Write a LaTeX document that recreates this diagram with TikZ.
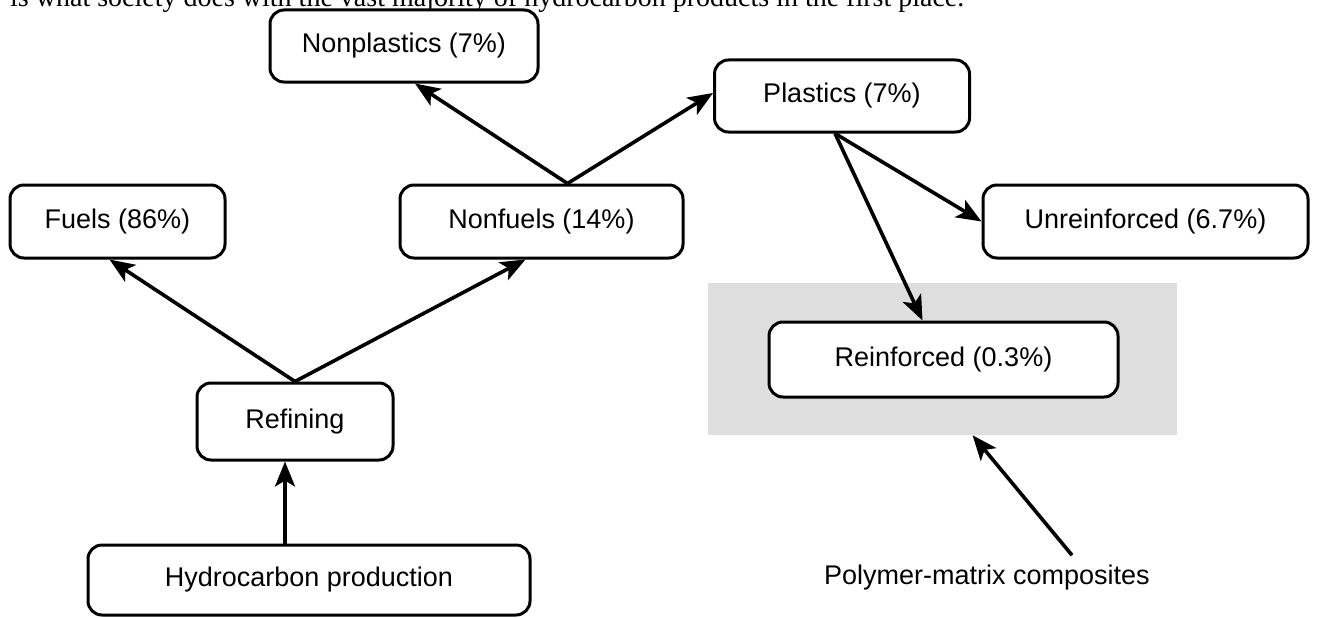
\documentclass[tikz,border=0pt]{standalone}
\usepackage{fontspec}
\setmainfont{Liberation Sans}
\newfontfamily\bodyserif{Liberation Serif}
\usetikzlibrary{arrows.meta}
\definecolor{panelgrey}{HTML}{DEDEDE}
\begin{document}
\begin{tikzpicture}[x=1pt,y=-1pt,
  box/.style={draw, line width=3pt, rounded corners=14pt, fill=white,
    inner sep=0pt, font=\fontsize{27}{32}\selectfont},
  flow/.style={line width=3.6pt,
    -{Stealth[length=25pt,width=20pt,inset=6pt]}},
  label/.style={font=\fontsize{27}{32}\selectfont, inner sep=0pt}]
\clip (0,0) rectangle (1322,618);
\fill[white] (0,0) rectangle (1322,618);

% running text above the figure
\node[anchor=base west, inner sep=0pt, font=\bodyserif\fontsize{28}{32}\selectfont]
  (prose) at (10,7) {is what society does with the vast majority of hydrocarbon products in the first place.};

% shaded panel marking the composites
\node[fill=panelgrey, minimum width=469pt, minimum height=152pt, inner sep=0pt]
  (pmc) at (942.5,359) {};

% process boxes
\node[box, minimum width=268pt, minimum height=72pt] (nonplastics) at (404,46) {Nonplastics (7\%)};
\node[box, minimum width=255pt, minimum height=72pt] (plastics) at (842,96) {Plastics (7\%)};
\node[box, minimum width=215pt, minimum height=73pt] (fuels) at (117.5,221.5) {Fuels (86\%)};
\node[box, minimum width=283pt, minimum height=73pt] (nonfuels) at (541.5,221.5) {Nonfuels (14\%)};
\node[box, minimum width=325pt, minimum height=73pt] (unreinforced) at (1145.5,221.5) {Unreinforced (6.7\%)};
\node[box, minimum width=349pt, minimum height=75pt] (reinforced) at (943.5,359.5) {Reinforced (0.3\%)};
\node[box, minimum width=196pt, minimum height=77pt] (refining) at (295,421.5) {Refining};
\node[box, minimum width=442pt, minimum height=70pt] (hydro) at (309,580) {Hydrocarbon production};

\node[label] (pmclabel) at (987,578) {Polymer-matrix composites};

% connectors
\draw[flow] ([xshift=-24pt]hydro.north) -- ([xshift=-10pt]refining.south);
\draw[flow] (refining.north) -- ([xshift=-8pt]fuels.south);
\draw[flow] (refining.north) -- ([xshift=-16pt]nonfuels.south);
\draw[flow] ([xshift=26pt]nonfuels.north) -- ([xshift=11pt]nonplastics.south);
\draw[flow] ([xshift=26pt]nonfuels.north) -- ([yshift=3pt]plastics.west);
\draw[flow] ([xshift=-7pt]plastics.south) -- (unreinforced.west);
\draw[flow] ([xshift=-7pt]plastics.south) -- ([xshift=-21pt]reinforced.north);
\draw[flow] ([xshift=85pt,yshift=10pt]pmclabel.north) -- ([xshift=30pt]pmc.south);
\end{tikzpicture}
\end{document}
